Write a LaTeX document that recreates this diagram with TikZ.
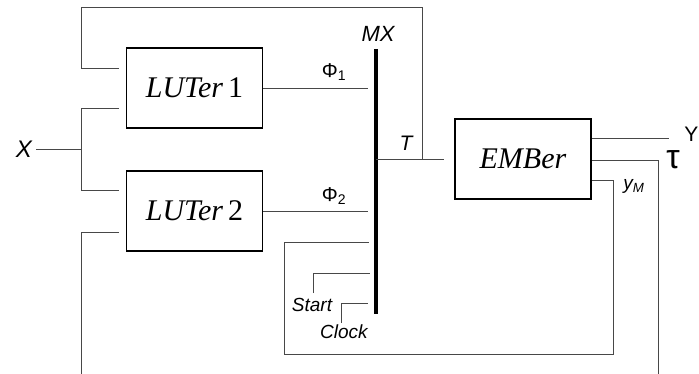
\documentclass[tikz,border=0pt]{standalone}
\usepackage{fontspec}
\setmainfont{Liberation Serif}
\setsansfont{Liberation Sans}
\usepackage{tikz}
\usetikzlibrary{calc}
\definecolor{figW}{RGB}{72,72,72}
\tikzset{blk/.style={draw=black, line width=1.6pt, minimum width=136pt, minimum height=80pt,
  inner sep=0pt, font=\rmfamily\fontsize{30}{30}\selectfont},
  wire/.style={figW, line width=0.9pt},
  bus/.style={black, line width=3.2pt},
  lbl/.style={font=\sffamily\itshape\fontsize{19}{19}\selectfont, inner sep=0pt}}

\begin{document}
\begin{tikzpicture}[x=1pt, y=-1pt]
\useasboundingbox (0,0) rectangle (699,374);
% blocks
\node[blk] (lut1) at (194.5,88) {\textit{LUTer}\,1};
\node[blk] (lut2) at (194.5,211) {\textit{LUTer}\,2};
\node[blk] (ember) at (523,159) {\textit{EMBer}};
% multiplexer bus
\coordinate (mxT) at (376,49);
\coordinate (mxB) at (376,314);
\draw[bus] (mxT) -- (mxB);
\node[lbl, font=\sffamily\itshape\fontsize{22}{22}\selectfont] (mx) at (378,34) {MX};
% input X
\node[lbl, font=\sffamily\itshape\fontsize{24}{24}\selectfont] (xin) at (24,149) {X};
\coordinate (xj) at (81,149);
\coordinate (in1b) at (119,108);
\coordinate (in2a) at (119,190);
\draw[wire] (36,149) -- (xj);
\draw[wire] (in1b) -- (81,108) -- (81,190) -- (in2a);
% feedback T to LUTer 1
\coordinate (in1a) at (119,68);
\coordinate (tj) at (422,159);
\coordinate (tin) at (444,159);
\draw[wire] (in1a) -- (81,68) -- (81,7) -- (422,7) -- (tj);
\draw[wire] (376,159) -- (tin);
\node[lbl, font=\sffamily\itshape\fontsize{21}{21}\selectfont] (tlbl) at (406,143) {T};
% LUTer 2 lower input, tau
\coordinate (in2b) at (119,232);
\draw[wire] (in2b) -- (81,232) -- (81,374);
\draw[wire] (ember.east |- 0,160) -- (658,160) -- (658,374);
\node[font=\sffamily\fontsize{34}{34}\selectfont, inner sep=0pt] (tau) at (673,160) {τ};
% outputs of the LUTers
\coordinate (ph1) at (368,88);
\coordinate (ph2) at (368,211);
\draw[wire] (lut1.east) -- (ph1);
\draw[wire] (lut2.east) -- (ph2);
\node[lbl, font=\sffamily\fontsize{20}{20}\selectfont] (phi1) at (334,72) {Φ\textsubscript{1}};
\node[lbl, font=\sffamily\fontsize{20}{20}\selectfont] (phi2) at (334,196) {Φ\textsubscript{2}};
% output Y
\coordinate (yout) at (669,138);
\draw[wire] (ember.east |- yout) -- (yout);
\node[lbl, font=\sffamily\fontsize{21}{21}\selectfont, anchor=east] (ylbl) at (698.5,134) {Y};
% y_M back to MX
\coordinate (ym) at (369,242);
\draw[wire] (ember.east |- 0,180) -- (613,180) -- (613,354) -- (284,354) -- (284,242) -- (ym);
\node[lbl] (ymlbl) at (634,186) {y\textsubscript{M}};
% Start and Clock
\coordinate (st) at (370,273);
\coordinate (ck) at (368,303);
\draw[wire] (313,293) -- (313,273) -- (st);
\draw[wire] (341,323) -- (341,303) -- (ck);
\node[lbl] (start) at (312,305) {Start};
\node[lbl] (clock) at (344,332) {Clock};
\end{tikzpicture}
\end{document}
